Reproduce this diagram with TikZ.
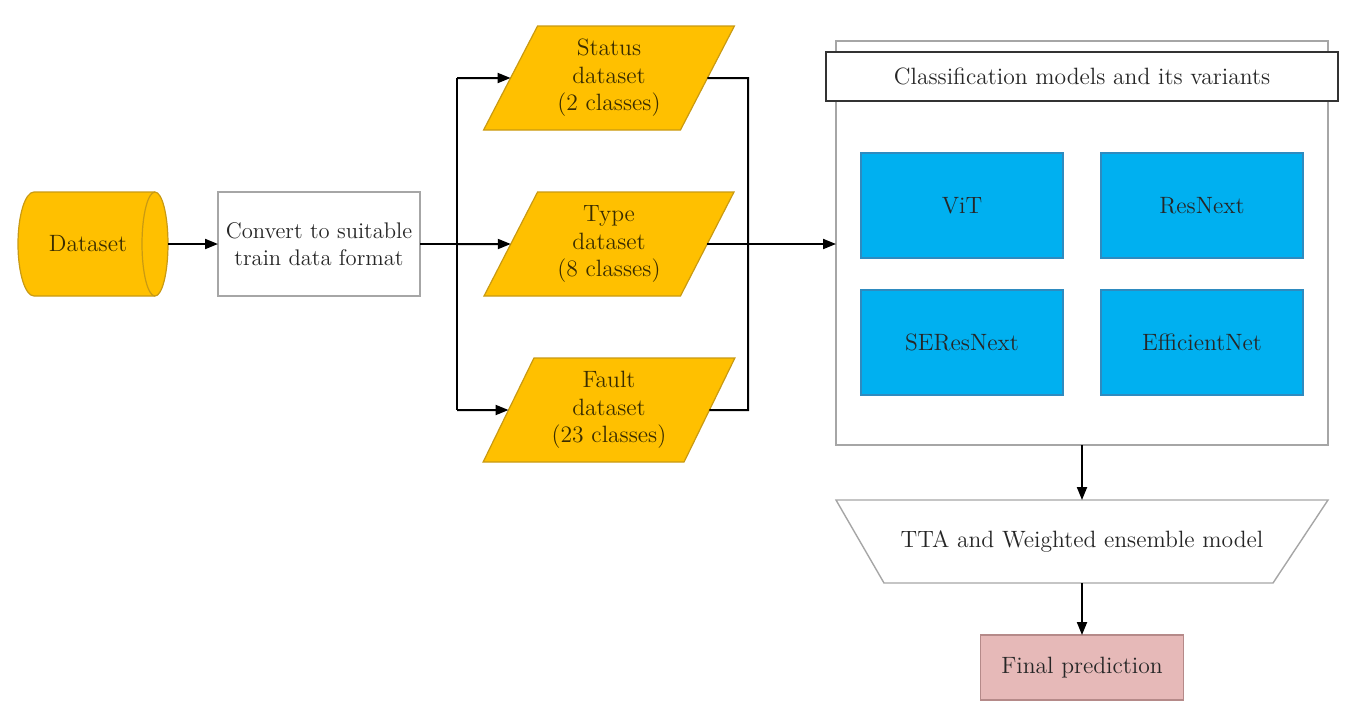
\documentclass[tikz,border=0pt]{standalone}
\usetikzlibrary{arrows.meta,calc,shapes.geometric}
\definecolor{amber}{HTML}{FFC000}
\definecolor{amberline}{HTML}{C99A12}
\definecolor{skyblue}{HTML}{00B0F0}
\definecolor{blueline}{HTML}{2E8BC0}
\definecolor{pinkfill}{HTML}{E6B9B8}
\definecolor{pinkline}{HTML}{B58A89}
\definecolor{greyline}{HTML}{A6A6A6}
\definecolor{txt}{HTML}{262626}
\definecolor{ambertxt}{HTML}{3A2D00}
\begin{document}
\begin{tikzpicture}[x=0.5pt,y=-0.5pt,
  font=\fontsize{11.8}{13.8}\selectfont, text=txt,
  conn/.style={line width=1pt, black},
  arr/.style={conn, -{Triangle[length=6.5pt,width=5pt]}},
  whitebox/.style={draw=greyline, line width=0.7pt, fill=white, minimum width=101pt, minimum height=52pt, align=center, inner sep=0pt, outer sep=0pt},
  para/.style={trapezium, trapezium left angle=63.4, trapezium right angle=116.6, trapezium stretches=true,
    fill=amber, draw=amberline, line width=0.6pt, minimum width=126pt, minimum height=52pt,
    align=center, inner sep=0pt, outer sep=0pt, text=ambertxt},
  model/.style={fill=skyblue, draw=blueline, line width=0.6pt, minimum width=101pt, minimum height=52.5pt, inner sep=0pt, outer sep=0pt, text=black!85},
  plain/.style={inner sep=0pt, outer sep=0pt, align=center}
]
\useasboundingbox (0,0) rectangle (1366,714);

% Dataset cylinder
\filldraw[fill=amber, draw=amberline, line width=0.6pt]
  (34,192) arc[start angle=90, end angle=270, x radius=8pt, y radius=26pt]
  -- (155,296) arc[start angle=270, end angle=450, x radius=6.5pt, y radius=26pt] -- cycle;
\draw[amberline, line width=0.6pt] (155,192) arc[start angle=90, end angle=270, x radius=6.5pt, y radius=26pt];
\node[plain, minimum width=75pt, minimum height=52pt, text=ambertxt] (ds) at (93,244) {};
\node[plain, text=ambertxt] at (88,244) {Dataset};

% Convert
\node[whitebox, font=\fontsize{11.3}{13.8}\selectfont] (conv) at (319,244) {Convert to suitable\\train data format};

% datasets
\node[para] (st) at (609,78) {Status\\dataset\\(2 classes)};
\node[para] (ty) at (609,244) {Type\\dataset\\(8 classes)};
\node[para] (fa) at (609,410) {Fault\\dataset\\(23 classes)};

% outer container
\node[draw=greyline, line width=0.7pt, fill=white, minimum width=246pt, minimum height=202pt, inner sep=0pt, outer sep=0pt] (outer) at (1082,243) {};
\node[draw=black!80, line width=0.9pt, fill=white, minimum width=256pt, minimum height=24.5pt, inner sep=0pt, outer sep=0pt] (title) at (1082,76.5) {Classification models and its variants};

\node[model] (vit) at (962,205.5) {ViT};
\node[model] (rsn) at (1202,205.5) {ResNext};
\node[model] (srn) at (962,342.5) {SEResNext};
\node[model] (eff) at (1202,342.5) {EfficientNet};

% TTA trapezoid
\draw[greyline, line width=0.7pt, fill=white] (836,500) -- (1328,500) -- (1273,583) -- (884,583) -- cycle;
\node[plain, minimum width=246pt, minimum height=41.5pt] (tta) at (1082,541.5) {TTA and Weighted ensemble model};

% Final prediction
\node[fill=pinkfill, draw=pinkline, line width=0.6pt, minimum width=101.5pt, minimum height=32.5pt, inner sep=0pt, outer sep=0pt, text=black!85] (fin) at (1082,667.5) {Final prediction};

% connectors
\coordinate (jl) at (457,244);
\coordinate (jlt) at (457,78);
\coordinate (jlb) at (457,410);
\coordinate (jrt) at (748,78);
\coordinate (jrb) at (748,410);
\draw[arr] (ds.east) -- (conv.west);
\draw[conn] (conv.east) -- (jl);
\draw[conn] (jlt) -- (jlb);
\draw[arr] (jlt) -- (st.west);
\draw[arr] (jl) -- (ty.west);
\draw[arr] (jlb) -- (fa.west);
\draw[conn] (st.east) -- (jrt) -- (jrb) -- (fa.east);
\draw[arr] (ty.east) -- (ty.east -| outer.west);
\draw[arr] (outer.south) -- (tta.north);
\draw[arr] (tta.south) -- (fin.north);
\end{tikzpicture}
\end{document}
